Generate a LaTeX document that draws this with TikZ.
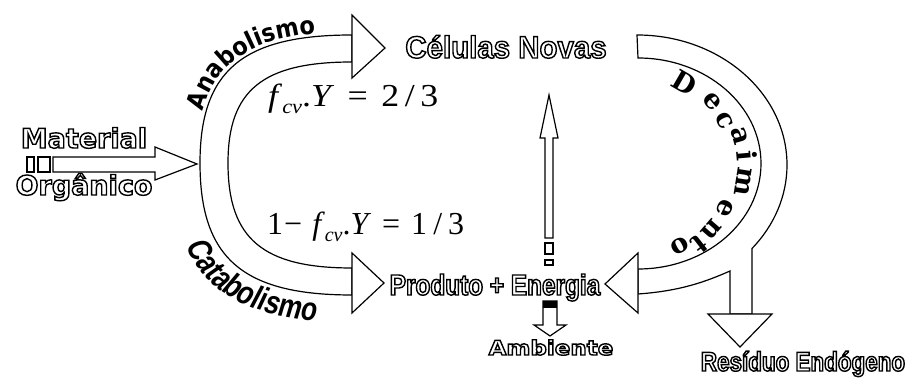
\documentclass[tikz,border=0pt]{standalone}
\usepackage{fontspec}
\setmainfont{Liberation Serif}
\newfontfamily\fwide{DejaVu Sans}
\newfontfamily\fcel[FakeStretch=0.95]{Liberation Sans}
\newfontfamily\famb[FakeStretch=1.15]{DejaVu Sans}
\newfontfamily\fnarrow[FakeStretch=0.84]{Liberation Sans}
\newfontfamily\fres[FakeStretch=0.83]{Liberation Sans}
\newfontfamily\fana[FakeStretch=0.9]{DejaVu Sans}
\newfontfamily\fcat[FakeStretch=0.8,FakeSlant=0.12]{Liberation Sans}
\newfontfamily\fdec{DejaVu Serif}
\usetikzlibrary{decorations.text}
\newcommand\otx[1]{\special{pdf:code 1 Tr 1.4 w}#1\special{pdf:code 0 Tr}}
\newcommand\anafont{\fana\bfseries\fontsize{25}{25}\selectfont}
\newcommand\catfont{\fcat\bfseries\fontsize{33}{33}\selectfont}
\newcommand\decfont{\fdec\bfseries\fontsize{27}{27}\selectfont}
\begin{document}
\begin{tikzpicture}[x=1pt,y=1pt,
  band/.style={draw=black, line width=1.2pt, fill=white, line join=miter},
  otext/.style={anchor=base, inner sep=0pt},
  eq/.style={anchor=base west, inner sep=0pt, font=\fontsize{32}{32}\selectfont}]
\useasboundingbox (0,0) rectangle (913,379);

% left band (anabolism / catabolism)
\draw[band] (352,344) .. controls (242.6,344) and (200,308.2) .. (200,216)
  .. controls (200,121) and (242.6,84) .. (352,84) -- (352,111)
  .. controls (262.7,111) and (228,140.4) .. (228,216)
  .. controls (228,288.7) and (262.7,317) .. (352,317) -- cycle;
\draw[band] (352,364) -- (385,331) -- (352,301) -- cycle;
\draw[band] (352,126) -- (384,96) -- (352,66) -- cycle;

% right band (decay)
\draw[band] (638,321) -- (637,344)
  arc[start angle=90, end angle=-39.95, x radius=150, y radius=130]
  -- (752,65) -- (730,65) -- (730,108)
  .. controls (705,97) and (680,88) .. (638,85) -- (638,110)
  arc[start angle=-90, end angle=90, x radius=123, y radius=105.5] -- cycle;
\draw[band] (638,126) -- (605,95) -- (638,66) -- cycle;
\draw[band] (708,65) -- (772,65) -- (740,32) -- cycle;

% material arrow
\draw[band] (53,222) -- (155,222) -- (155,232) -- (197,215) -- (155,199)
  -- (155,207) -- (53,207) -- cycle;
\draw[band] (27,207) rectangle (34,222);
\draw[band] (38,207) rectangle (50,222);

% vertical arrow
\draw[band] (545,141) -- (545,241) -- (540,241) -- (549,284) -- (558,241)
  -- (553,241) -- (553,141) -- cycle;
\draw[band] (545,125) rectangle (553,136);
\draw[band] (545,114) rectangle (553,119);

% ambiente arrow
\draw[band] (543,78) -- (557,78) -- (557,54) -- (566,54) -- (550,43)
  -- (534,54) -- (543,54) -- cycle;
\fill (543,71) rectangle (557,78);

% outlined labels
\node[otext] (cel) at (506,321) {\fcel\bfseries\fontsize{31}{31}\selectfont\otx{Células Novas}};
\node[otext] (mat) at (84,231) {\fwide\bfseries\fontsize{27}{27}\selectfont\otx{Material}};
\node[otext] (org) at (84,184) {\fwide\bfseries\fontsize{27}{27}\selectfont\otx{Orgânico}};
\node[otext] (prod) at (495,84) {\fnarrow\bfseries\fontsize{29}{29}\selectfont\otx{Produto + Energia}};
\node[otext] (amb) at (551,24) {\famb\bfseries\fontsize{20}{20}\selectfont\otx{Ambiente}};
\node[otext] (res) at (803,8) {\fres\bfseries\fontsize{27}{27}\selectfont\otx{Resíduo Endógeno}};

% equations
\node[eq] (eq1) at (268,272) {\scalebox{1.12}[1]{\textit{f}\raisebox{-7pt}{\fontsize{20}{20}\selectfont\textit{cv}}.\textit{Y}\hspace{12pt}=\hspace{12pt}2\hspace{5pt}/\hspace{5pt}3}};
\node[eq] (eq2) at (267,144) {1\hspace{1pt}−\hspace{10pt}\textit{f}\raisebox{-7pt}{\fontsize{20}{20}\selectfont\textit{cv}}.\textit{Y}\hspace{11pt}=\hspace{11pt}1\hspace{6pt}/\hspace{6pt}3};

% curved labels
\path[decorate, decoration={text along path, text={|\anafont|Anabolismo},
  text align={left indent=52pt}}]
  (197,216) .. controls (197,310.3) and (240.4,347) .. (352,347);
\path[decorate, decoration={text along path, text={|\catfont|Catabolismo},
  text align={left indent=84pt}}]
  (173,216) .. controls (173,101.5) and (223,57) .. (352,57);

\foreach \ch/\a [count=\i] in {D/60, e/40, c/27, a/16, i/5, m/-9, e/-26, n/-41, t/-52, o/-62} {
  \pgfmathsetmacro\rr{1/sqrt((cos(\a)/92)^2+(sin(\a)/78)^2)}
  \node[rotate=\a-90, anchor=base, inner sep=0pt] (dec\i)
    at ({637+\rr*cos(\a)},{214+\rr*sin(\a)}) {\decfont\ch};
}
\end{tikzpicture}
\end{document}
